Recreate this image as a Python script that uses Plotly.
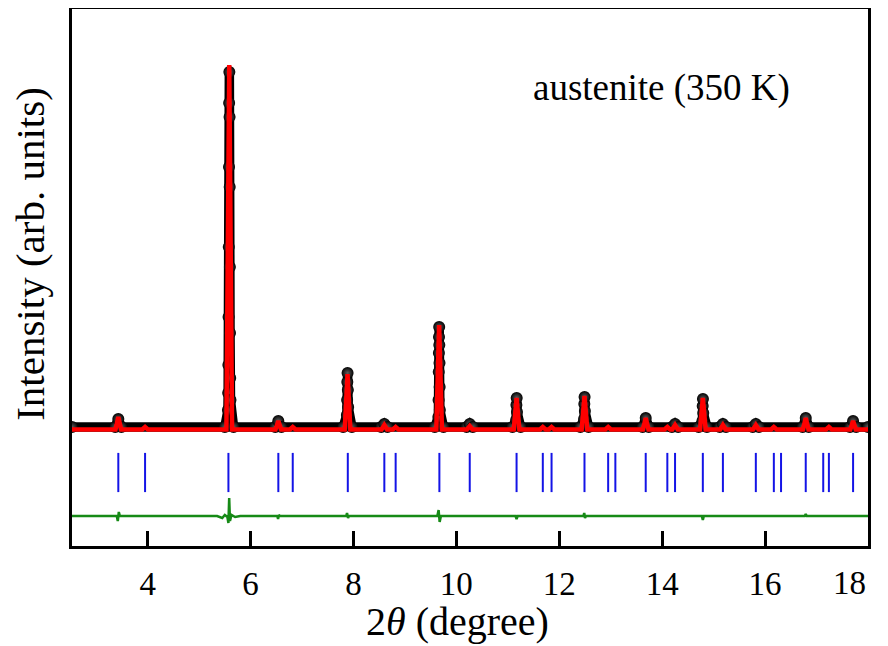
import plotly.graph_objects as go

# ---------------- data ----------------
# Calculated profile: background level and Bragg peak apexes
calc_background = 116.5
calc_peak_pos = [3.43, 3.95, 5.586, 6.54, 6.82, 7.885, 8.60, 8.82, 9.665, 10.26,
                 11.17, 11.68, 11.85, 12.49, 12.95, 13.68, 14.10, 14.25, 14.79,
                 15.18, 15.82, 16.17, 16.79, 17.24, 17.71]
calc_peak_height = [129, 119, 481, 125, 119, 172, 121, 119, 221, 120,
                    148, 119, 119, 150, 119, 128, 119, 121, 148,
                    121, 121, 119, 128, 119, 125]

# Observed data points
obs_x = [2.53,
         3.37, 3.43, 3.49,
         5.50, 5.561, 5.565, 5.569, 5.573, 5.577, 5.581, 5.584, 5.588,
         5.592, 5.595, 5.598, 5.601, 5.605, 5.610, 5.67,
         6.48, 6.54, 6.60,
         7.80, 7.872, 7.877, 7.881, 7.886, 7.891, 7.897, 7.97,
         8.54, 8.60, 8.66,
         9.58, 9.650, 9.654, 9.657, 9.660, 9.663, 9.666,
         9.669, 9.672, 9.675, 9.679, 9.75,
         10.20, 10.26, 10.32,
         11.09, 11.162, 11.167, 11.172, 11.178, 11.25,
         12.41, 12.482, 12.487, 12.492, 12.498, 12.57,
         13.62, 13.68, 13.74,
         14.19, 14.25, 14.31,
         14.71, 14.782, 14.787, 14.792, 14.798, 14.87,
         15.12, 15.18, 15.24,
         15.76, 15.82, 15.88,
         16.73, 16.79, 16.85,
         17.65, 17.71, 17.77,
         18.0]
obs_y = [119,
         119, 127, 119,
         119, 136, 153, 181, 229, 299, 379, 443, 474,
         429, 359, 279, 213, 168, 146, 119,
         119, 125, 119,
         119, 131, 146, 164, 173, 156, 139, 119,
         119, 122, 119,
         119, 129, 146, 174, 193, 209, 219,
         201, 183, 159, 136, 119,
         119, 122, 119,
         119, 126, 141, 148, 134, 119,
         119, 127, 142, 149, 135, 119,
         119, 128, 119,
         119, 122, 119,
         119, 125, 140, 147, 133, 119,
         119, 122, 119,
         119, 122, 119,
         119, 128, 119,
         119, 125, 119,
         119]

# Bragg reflection positions (austenite)
bragg_pos = [3.43, 3.95, 5.57, 6.54, 6.82, 7.89, 8.60, 8.82, 9.67, 10.26,
             11.17, 11.68, 11.85, 12.49, 12.95, 13.09, 13.68, 14.10, 14.25,
             14.79, 15.18, 15.82, 16.17, 16.31, 16.79, 17.13, 17.24, 17.71]
bragg_level = 73.5

# Difference curve (obs - calc, offset)
diff_x = [2.53, 3.40, 3.42, 3.44, 3.46, 5.35, 5.45, 5.50, 5.55, 5.57, 5.585,
          5.60, 5.63, 5.70, 5.80, 6.52, 6.535, 6.55, 6.57, 7.86, 7.875, 7.895,
          7.91, 9.63, 9.655, 9.675, 9.70, 11.15, 11.17, 11.19, 12.47, 12.485,
          12.50, 12.52, 14.77, 14.79, 14.81, 16.77, 16.79, 16.81, 18.0]
diff_y = [30, 30, 25, 34, 30, 30, 28, 31, 29, 23, 48,
          25, 31, 29, 30, 30, 27, 31, 30, 30, 33, 28,
          30, 30, 36, 24, 30, 30, 27, 30, 30, 33,
          28, 30, 30, 26, 30, 30, 32, 30, 30]

x_ticks = [4, 6, 8, 10, 12, 14, 16, 18]
x_tick_labels = ["4", "6", "8", "10", "12", "14", "16", ""]
last_tick_label = "18"   # drawn right-aligned under the frame corner, as in the original

# build calculated polyline from the peak list
foot = 0.055
calc_x = [2.53]
calc_y = [calc_background]
for p, h in zip(calc_peak_pos, calc_peak_height):
    calc_x += [p - foot, p, p + foot]
    calc_y += [calc_background, h, calc_background]
calc_x.append(18.0)
calc_y.append(calc_background)

SERIF = "Liberation Serif, Times New Roman, serif"

fig = go.Figure()

fig.add_trace(go.Scatter(
    x=obs_x, y=obs_y, mode="lines+markers", name="observed",
    line=dict(color="black", width=9.5),
    marker=dict(size=12, color="black",
                gradient=dict(type="radial", color="#606060"),
                line=dict(width=0)),
))
fig.add_trace(go.Scatter(
    x=calc_x, y=calc_y, mode="lines", name="calculated",
    line=dict(color="#ff0000", width=4.5),
))
fig.add_trace(go.Scatter(
    x=bragg_pos, y=[bragg_level] * len(bragg_pos), mode="markers",
    name="Bragg",
    marker=dict(symbol="line-ns", size=28,
                line=dict(width=2, color="#1414e6")),
))
fig.add_trace(go.Scatter(
    x=diff_x, y=diff_y, mode="lines", name="difference",
    line=dict(color="#168a16", width=2.5),
))

fig.add_annotation(
    x=0.74, y=0.853, xref="paper", yref="paper",
    xanchor="center", yanchor="middle",
    text="austenite (350 K)", showarrow=False,
    font=dict(family=SERIF, size=37, color="black"),
)
# last x tick label
fig.add_annotation(
    x=x_ticks[-1], y=-0.0689, xref="x", yref="paper",
    xanchor="right", yanchor="middle",
    text=last_tick_label, showarrow=False,
    font=dict(family=SERIF, size=33, color="black"),
)
# axis titles
fig.add_annotation(
    x=0.484, y=-0.1415, xref="paper", yref="paper",
    xanchor="center", yanchor="middle",
    text="2<i>θ </i>(degree)", showarrow=False,
    font=dict(family=SERIF, size=40, color="black"),
)
fig.add_annotation(
    x=-0.0528, y=0.544, xref="paper", yref="paper",
    xanchor="center", yanchor="middle", textangle=-90,
    text="Intensity (arb. units)", showarrow=False,
    font=dict(family=SERIF, size=41, color="black"),
)

# the page places the figure 8 px from the window's top-left corner
fig.update_layout(
    width=880, height=638,
    margin=dict(l=64, r=20, t=1, b=100),
    paper_bgcolor="white", plot_bgcolor="white",
    showlegend=False,
    font=dict(family=SERIF, color="black"),
)
fig.update_xaxes(
    range=[2.53, 18.0], tickvals=x_ticks, ticktext=x_tick_labels,
    ticks="inside", ticklen=15, tickwidth=2.5, tickcolor="black",
    showline=True, linewidth=3, linecolor="black", mirror=True,
    showgrid=False, zeroline=False,
    tickfont=dict(family=SERIF, size=33, color="black"),
    ticklabelstandoff=6, ticklabeloverflow="allow",
    automargin=False,
)
fig.update_yaxes(
    range=[0, 537], showticklabels=False, ticks="",
    showline=True, linewidth=3, linecolor="black", mirror=True,
    showgrid=False, zeroline=False,
    automargin=False,
)

fig.write_html("out.html")
